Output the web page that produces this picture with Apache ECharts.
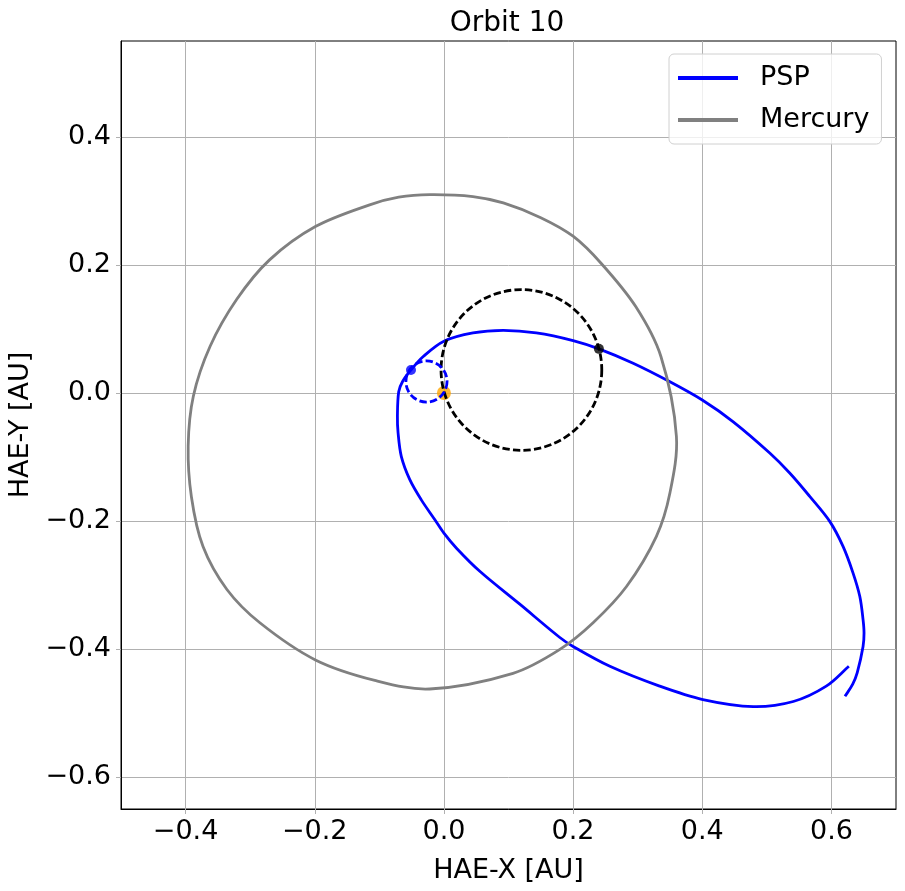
<!DOCTYPE html>
<html>
<head>
<meta charset="utf-8">
<script src="https://cdn.jsdelivr.net/npm/echarts@6/dist/echarts.min.js"></script>
<style>
  html, body { margin: 0; padding: 0; background: #fff; }
  #chart { width: 905px; height: 891px; }
</style>
</head>
<body>
<div id="chart"></div>
<script>
// values (AU)
const pspOrbit = [
  [0.621, -0.474], [0.633, -0.455], [0.640, -0.437], [0.649, -0.396], [0.6505, -0.375],
  [0.649, -0.354], [0.644, -0.318], [0.6334, -0.281], [0.618, -0.2397], [0.5974, -0.2006],
  [0.5664, -0.1615], [0.5354, -0.125], [0.5045, -0.0938], [0.448, -0.045], [0.400, -0.011],
  [0.350, 0.0175], [0.293, 0.0465], [0.240, 0.069], [0.200, 0.082], [0.143, 0.094],
  [0.092, 0.098], [0.045, 0.094], [0.000, 0.081], [-0.032, 0.057], [-0.051, 0.036],
  [-0.064, 0.018], [-0.070, 0.002], [-0.072, -0.036], [-0.071, -0.062], [-0.066, -0.099],
  [-0.053, -0.135], [-0.035, -0.167], [-0.014, -0.198], [0.000, -0.219], [0.0195, -0.2425],
  [0.056, -0.279], [0.1175, -0.330], [0.179, -0.3816], [0.200, -0.396], [0.257, -0.427],
  [0.334, -0.458], [0.401, -0.479], [0.479, -0.490], [0.541, -0.482], [0.592, -0.458],
  [0.627, -0.427]
];

// closed loop, the last point joins back to the first
const mercuryOrbit = [
  [-0.022, 0.310], [0.045, 0.307], [0.092, 0.297], [0.150, 0.274], [0.200, 0.245],
  [0.244, 0.202], [0.297, 0.135], [0.336, 0.057], [0.360, -0.068], [0.350, -0.156],
  [0.329, -0.224], [0.283, -0.302], [0.231, -0.359], [0.179, -0.401], [0.107, -0.438],
  [-0.022, -0.4625], [-0.107, -0.449], [-0.199, -0.417], [-0.285, -0.359], [-0.336, -0.307],
  [-0.373, -0.240], [-0.391, -0.162], [-0.396, -0.083], [-0.388, -0.005], [-0.362, 0.073],
  [-0.321, 0.146], [-0.270, 0.208], [-0.199, 0.260], [-0.115, 0.294], [-0.070, 0.306]
];

// dashed circles: [centerX, centerY, radius]
const blackCircle = [[0.120, 0.036, 0.125]];
const blueCircle = [[-0.027, 0.018, 0.032]];

// markers
const sunPoint = [[0.0, 0.0]];
const pspPoint = [[-0.051, 0.036]];
const mercuryPoint = [[0.240, 0.069]];

const xTicks = [-0.4, -0.2, 0.0, 0.2, 0.4, 0.6];
const yTicks = [-0.6, -0.4, -0.2, 0.0, 0.2, 0.4];

const FONT = 'DejaVu Sans';

function tickLabel(v) {
  const s = Math.abs(v).toFixed(1);
  return v < -1e-9 ? '\u2212' + s : s;
}

// smooth path through the pixel positions; handles follow the local
// direction and are a third of each neighbouring segment long
function smoothPath(pts, closed) {
  const n = pts.length;
  const at = i => closed ? pts[(i + n) % n] : pts[Math.max(0, Math.min(n - 1, i))];
  const dist = (a, b) => Math.hypot(a[0] - b[0], a[1] - b[1]);
  const tangent = i => {
    const a = at(i - 1), b = at(i + 1);
    const len = dist(a, b) || 1;
    return [(b[0] - a[0]) / len, (b[1] - a[1]) / len];
  };
  let d = 'M' + pts[0][0] + ' ' + pts[0][1];
  const segs = closed ? n : n - 1;
  for (let i = 0; i < segs; i++) {
    const p1 = at(i), p2 = at(i + 1);
    const L = dist(p1, p2) / 3;
    const t1 = tangent(i), t2 = tangent(i + 1);
    const c1 = [p1[0] + t1[0] * L, p1[1] + t1[1] * L];
    const c2 = [p2[0] - t2[0] * L, p2[1] - t2[1] * L];
    d += ' C' + c1[0] + ' ' + c1[1] + ' ' + c2[0] + ' ' + c2[1] + ' ' + p2[0] + ' ' + p2[1];
  }
  return closed ? d + ' Z' : d;
}

// whole curve drawn once
function curveItem(points, color, closed) {
  return function (params, api) {
    if (params.dataIndex !== 0) return null;
    return {
      type: 'path',
      shape: { pathData: smoothPath(points.map(p => api.coord(p)), closed) },
      style: { fill: 'none', stroke: color, lineWidth: 2.8 }
    };
  };
}

function circleItem(color) {
  return function (params, api) {
    const c = api.coord([api.value(0), api.value(1)]);
    const s = api.size([api.value(2), api.value(2)]);
    return {
      type: 'circle',
      shape: { cx: c[0], cy: c[1], r: (s[0] + s[1]) / 2 },
      style: { fill: 'none', stroke: color, lineWidth: 2.8, lineDash: [7.4, 3.2] }
    };
  };
}

function axisCommon(ticks) {
  return {
    type: 'value',
    axisLine: { show: true, onZero: false, lineStyle: { color: '#000', width: 1 } },
    axisTick: { show: true, length: 5, inside: false, customValues: ticks, lineStyle: { color: '#b0b0b0', width: 1 } },
    axisLabel: { customValues: ticks, formatter: tickLabel, fontFamily: FONT, fontSize: 27, color: '#000' },
    splitLine: { show: true, lineStyle: { color: '#b0b0b0', width: 1 } },
    nameLocation: 'middle',
    nameTextStyle: { fontFamily: FONT, fontSize: 27, color: '#000' }
  };
}

const chart = echarts.init(document.getElementById('chart'), null, { renderer: 'canvas' });

const xAxis = axisCommon(xTicks);
Object.assign(xAxis, { min: -0.5, max: 0.7, name: 'HAE-X [AU]', nameGap: 48 });
xAxis.axisLabel.margin = 9;

const yAxis = axisCommon(yTicks);
Object.assign(yAxis, { min: -0.65, max: 0.55, name: 'HAE-Y [AU]', nameGap: 84 });
yAxis.axisLabel.margin = 10;

chart.setOption({
  animation: false,
  backgroundColor: '#fff',
  title: {
    text: 'Orbit 10',
    left: 502,
    top: 5,
    textAlign: 'center',
    textStyle: { fontFamily: FONT, fontSize: 28, fontWeight: 'normal', color: '#000' }
  },
  grid: {
    left: 121, right: 9, top: 41, bottom: 82,
    show: true, borderColor: '#000', borderWidth: 1,
    outerBoundsMode: 'none'
  },
  legend: {
    data: ['PSP', 'Mercury'],
    orient: 'vertical',
    left: 669,
    top: 54,
    icon: 'rect',
    itemWidth: 60,
    itemHeight: 4,
    itemGap: 12,
    padding: [9, 12, 9, 9],
    backgroundColor: 'rgba(255,255,255,0.8)',
    borderColor: '#d0d0d0',
    borderWidth: 1,
    borderRadius: 5,
    textStyle: { fontFamily: FONT, fontSize: 27, color: '#000', lineHeight: 30, padding: [0, 0, 0, 17] }
  },
  xAxis: xAxis,
  yAxis: yAxis,
  series: [
    {
      name: 'sun', type: 'scatter', data: sunPoint, symbolSize: 14,
      itemStyle: { color: '#ffa500' }, silent: true, z: 1
    },
    {
      name: 'PSP', type: 'custom', data: pspOrbit, encode: { x: 0, y: 1 },
      renderItem: curveItem(pspOrbit, '#0000ff', false),
      itemStyle: { color: '#0000ff' }, silent: true, z: 2
    },
    {
      name: 'Mercury', type: 'custom', data: mercuryOrbit, encode: { x: 0, y: 1 },
      renderItem: curveItem(mercuryOrbit, '#808080', true),
      itemStyle: { color: '#808080' }, silent: true, z: 2
    },
    {
      name: 'mercury frame', type: 'custom', data: blackCircle, encode: { x: 0, y: 1 },
      renderItem: circleItem('#000'), silent: true, z: 3
    },
    {
      name: 'psp frame', type: 'custom', data: blueCircle, encode: { x: 0, y: 1 },
      renderItem: circleItem('#0000ff'), silent: true, z: 3
    },
    {
      name: 'psp pos', type: 'scatter', data: pspPoint, symbolSize: 10,
      itemStyle: { color: '#0000ff' }, silent: true, z: 4
    },
    {
      name: 'mercury pos', type: 'scatter', data: mercuryPoint, symbolSize: 10,
      itemStyle: { color: '#000' }, silent: true, z: 4
    }
  ]
});
</script>
</body>
</html>
